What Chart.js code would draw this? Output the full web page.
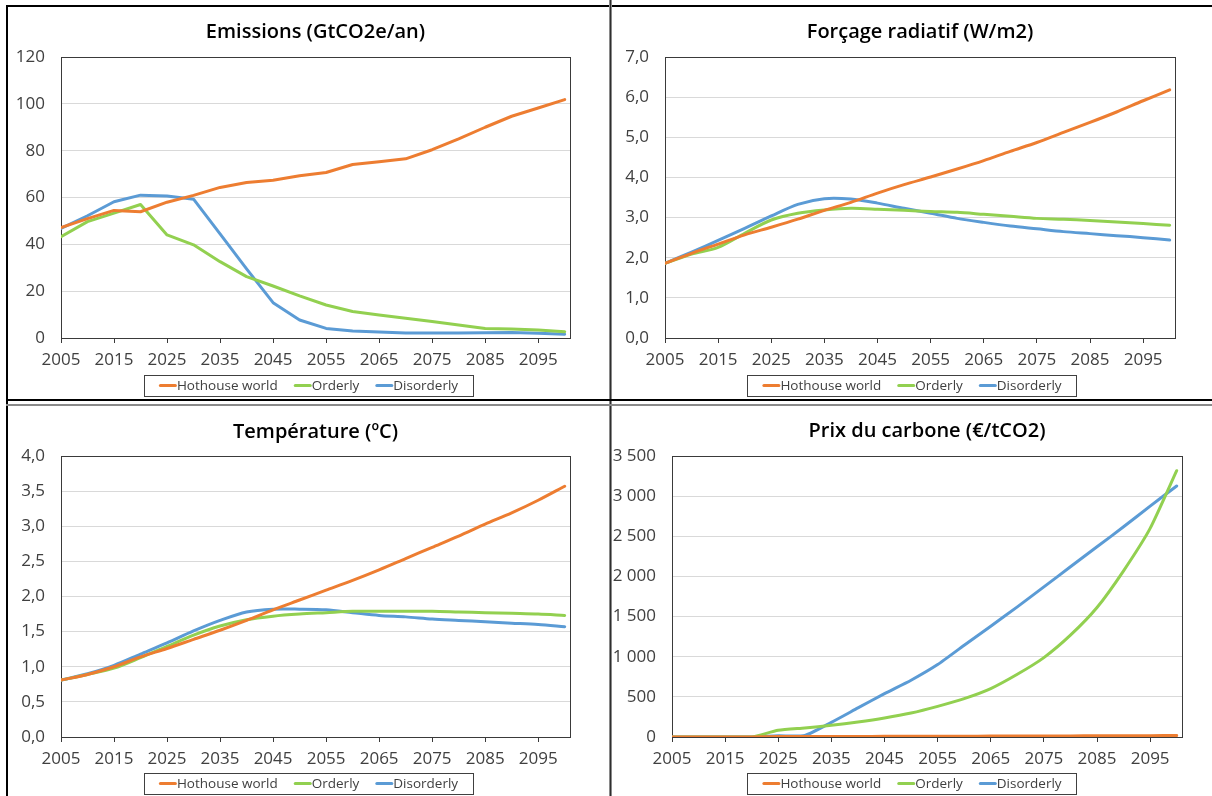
<!DOCTYPE html>
<html>
<head>
<meta charset="utf-8">
<script src="https://cdn.jsdelivr.net/npm/chart.js@4.4.0/dist/chart.umd.min.js"></script>
<style>
  html, body { margin: 0; padding: 0; background: #ffffff; }
  body { width: 1212px; height: 796px; position: relative; overflow: hidden; }
  canvas { position: absolute; }
  .rule { position: absolute; }
</style>
</head>
<body>
<canvas id="cEmissions" width="601" height="393" style="left:8px;top:7px"></canvas>
<canvas id="cForcing" width="600" height="393" style="left:612px;top:7px"></canvas>
<canvas id="cTemperature" width="601" height="390" style="left:8px;top:406px"></canvas>
<canvas id="cCarbonPrice" width="600" height="390" style="left:612px;top:406px"></canvas>

<!-- panel frame lines -->
<div class="rule" style="left:6px;top:5px;width:1206px;height:2px;background:#000"></div>
<div class="rule" style="left:6px;top:5px;width:2px;height:791px;background:#000"></div>
<div class="rule" style="left:609px;top:0px;width:3px;height:796px;background:#8a8a8a"></div>
<div class="rule" style="left:610px;top:0px;width:1px;height:796px;background:#2e2e2e"></div>
<div class="rule" style="left:6px;top:399px;width:1206px;height:2px;background:#000"></div>
<div class="rule" style="left:6px;top:404px;width:1206px;height:2px;background:#8a8a8a"></div>

<script>
// Years of the scenario paths (5-year steps)
const years = [2005, 2010, 2015, 2020, 2025, 2030, 2035, 2040, 2045, 2050,
               2055, 2060, 2065, 2070, 2075, 2080, 2085, 2090, 2095, 2100];
// Labelled years on the horizontal axis
const xTickYears = [2005, 2015, 2025, 2035, 2045, 2055, 2065, 2075, 2085, 2095];

const scenarioNames = ['Hothouse world', 'Orderly', 'Disorderly'];
const scenarioColors = ['#ED7D31', '#92D050', '#5B9BD5'];

// Emissions (GtCO2e/an)
const emissionsHothouse = [47.2, 51.0, 54.5, 53.9, 58.0, 60.9, 64.3, 66.4, 67.4, 69.3,
                           70.7, 74.1, 75.3, 76.5, 80.4, 85.0, 90.0, 94.7, 98.2, 101.8];
const emissionsOrderly = [43.3, 49.7, 53.3, 57.0, 44.0, 39.8, 32.6, 26.2, 22.2, 18.0,
                          14.1, 11.3, 9.8, 8.4, 7.0, 5.6, 4.1, 3.8, 3.4, 2.7];
const emissionsDisorderly = [46.8, 52.2, 58.2, 61.0, 60.6, 59.3, 44.5, 29.5, 15.1, 7.7,
                             4.1, 3.0, 2.6, 2.1, 2.1, 2.1, 2.2, 2.4, 2.0, 1.6];

// Forçage radiatif (W/m2)
const forcingHothouse = [1.86, 2.11, 2.34, 2.57, 2.76, 2.96, 3.18, 3.38, 3.61, 3.82,
                         4.01, 4.21, 4.42, 4.65, 4.87, 5.12, 5.37, 5.63, 5.91, 6.18];
const forcingOrderly = [1.86, 2.09, 2.26, 2.61, 2.94, 3.11, 3.19, 3.23, 3.21, 3.18,
                        3.15, 3.13, 3.08, 3.03, 2.98, 2.96, 2.93, 2.89, 2.85, 2.81];
const forcingDisorderly = [1.86, 2.14, 2.43, 2.73, 3.04, 3.33, 3.47, 3.46, 3.36, 3.23,
                           3.11, 2.98, 2.88, 2.79, 2.72, 2.65, 2.60, 2.55, 2.50, 2.44];

// Température (°C)
const temperatureHothouse = [0.81, 0.89, 1.00, 1.14, 1.26, 1.39, 1.52, 1.66, 1.81, 1.95,
                             2.09, 2.23, 2.38, 2.54, 2.70, 2.86, 3.03, 3.19, 3.37, 3.57];
const temperatureOrderly = [0.81, 0.89, 0.98, 1.13, 1.29, 1.45, 1.58, 1.67, 1.72, 1.75,
                            1.77, 1.79, 1.79, 1.79, 1.79, 1.78, 1.77, 1.76, 1.75, 1.73];
const temperatureDisorderly = [0.81, 0.90, 1.02, 1.18, 1.34, 1.51, 1.66, 1.78, 1.82, 1.82,
                               1.81, 1.77, 1.73, 1.71, 1.68, 1.66, 1.64, 1.62, 1.60, 1.57];

// Prix du carbone (€/tCO2)
const priceHothouse = [0, 0, 0, 0, 5, 6, 6, 7, 8, 9,
                       9, 10, 11, 12, 13, 14, 15, 16, 17, 18];
const priceOrderly = [0, 0, 0, 0, 83, 112, 145, 187, 237, 299,
                      382, 478, 603, 781, 989, 1268, 1613, 2070, 2598, 3317];
const priceDisorderly = [0, 0, 0, 0, 15, 20, 183, 362, 540, 707,
                         902, 1143, 1380, 1621, 1870, 2120, 2369, 2618, 2876, 3126];

const FONT = '"Open Sans", "Liberation Sans", sans-serif';

// French number formats for the value axes
const fmtInt = v => String(Math.round(v));
const fmtDec = v => v.toFixed(1).replace('.', ',');
const fmtThousands = v => String(Math.round(v)).replace(/\B(?=(\d{3})+(?!\d))/g, ' ');

// Plot frame, centred title and boxed legend
const panelDecor = {
  id: 'panelDecor',
  beforeDatasetsDraw(chart) {
    const { ctx, chartArea: a } = chart;
    ctx.save();
    ctx.strokeStyle = '#3a3a3a';
    ctx.lineWidth = 1;
    ctx.strokeRect(Math.round(a.left) + 0.5, Math.round(a.top) + 0.5,
                   Math.round(a.right - a.left), Math.round(a.bottom - a.top));
    ctx.restore();
  },
  afterDraw(chart, args, opts) {
    const { ctx, chartArea: a } = chart;
    ctx.save();
    // title
    ctx.font = '600 20px ' + FONT;
    ctx.fillStyle = '#000000';
    ctx.textAlign = 'center';
    ctx.textBaseline = 'middle';
    ctx.fillText(opts.title, (a.left + a.right) / 2 + (opts.titleDx || 0), opts.titleY);

    // legend
    ctx.font = '13.5px ' + FONT;
    const markW = 18, gap = 16, padX = 15, boxH = 21;
    const items = chart.data.datasets.map(ds => ({
      label: ds.label, color: ds.borderColor, w: ctx.measureText(ds.label).width
    }));
    const total = items.reduce((s, it) => s + markW + it.w, 0) + gap * (items.length - 1);
    const boxW = total + 2 * padX;
    const cx = chart.width / 2;
    const cy = opts.legendY;
    ctx.strokeStyle = '#404040';
    ctx.lineWidth = 1;
    ctx.strokeRect(Math.round(cx - boxW / 2) + 0.5, Math.round(cy - boxH / 2) + 0.5,
                   Math.round(boxW), boxH);
    let x = cx - total / 2;
    ctx.textAlign = 'left';
    ctx.textBaseline = 'middle';
    items.forEach(it => {
      ctx.strokeStyle = it.color;
      ctx.lineWidth = 3;
      ctx.lineCap = 'round';
      ctx.beginPath();
      ctx.moveTo(x + 1.5, cy);
      ctx.lineTo(x + markW - 1.5, cy);
      ctx.stroke();
      ctx.fillStyle = '#404040';
      ctx.fillText(it.label, x + markW, cy + 0.5);
      x += markW + it.w + gap;
    });
    ctx.restore();
  }
};

function makePanel(id, cfg) {
  const seriesList = cfg.series;
  const datasets = seriesList.map((vals, i) => ({
    label: scenarioNames[i],
    data: vals.map((v, k) => ({ x: years[k], y: v })),
    borderColor: scenarioColors[i],
    backgroundColor: scenarioColors[i],
    borderWidth: 3,
    pointRadius: 0,
    pointHoverRadius: 0,
    tension: cfg.tension || 0,
    borderCapStyle: 'round',
    borderJoinStyle: 'round',
    fill: false
  }));

  return new Chart(document.getElementById(id), {
    type: 'line',
    data: { datasets },
    plugins: [panelDecor],
    options: {
      responsive: false,
      animation: false,
      devicePixelRatio: 1,
      layout: { padding: { top: 50, left: 0, right: cfg.padRight, bottom: cfg.padBottom } },
      plugins: {
        legend: { display: false },
        title: { display: false },
        tooltip: { enabled: false },
        panelDecor: { title: cfg.title, titleY: cfg.titleY, legendY: cfg.legendY }
      },
      scales: {
        x: {
          type: 'linear',
          min: 2005,
          max: 2101,
          afterBuildTicks: s => { s.ticks = xTickYears.map(v => ({ value: v })); },
          afterFit: s => { s.height = 30; },
          grid: { drawOnChartArea: false, drawTicks: true, tickLength: 5, tickColor: '#3a3a3a' },
          border: { display: false },
          ticks: {
            autoSkip: false, maxRotation: 0, padding: 7,
            color: '#404040', font: { family: FONT, size: 17 },
            callback: v => String(v)
          }
        },
        y: {
          min: 0,
          max: cfg.yMax,
          afterFit: s => { s.width = cfg.yWidth; },
          grid: { color: '#d9d9d9', lineWidth: 1, drawTicks: false },
          border: { display: false },
          ticks: {
            stepSize: cfg.yStep, padding: 16,
            color: '#404040', font: { family: FONT, size: 17 },
            callback: cfg.yFormat
          }
        }
      }
    }
  });
}

makePanel('cEmissions', {
  title: 'Emissions (GtCO2e/an)',
  series: [emissionsHothouse, emissionsOrderly, emissionsDisorderly],
  yMax: 120, yStep: 20, yFormat: fmtInt, yWidth: 53,
  padRight: 39, padBottom: 32, titleY: 25, legendY: 378.5
});

makePanel('cForcing', {
  title: 'Forçage radiatif (W/m2)',
  series: [forcingHothouse, forcingOrderly, forcingDisorderly],
  yMax: 7, yStep: 1, yFormat: fmtDec, yWidth: 53, tension: 0.3,
  padRight: 37, padBottom: 32, titleY: 25, legendY: 378.5
});

makePanel('cTemperature', {
  title: 'Température (ºC)',
  series: [temperatureHothouse, temperatureOrderly, temperatureDisorderly],
  yMax: 4, yStep: 0.5, yFormat: fmtDec, yWidth: 53, tension: 0.3,
  padRight: 39, padBottom: 29, titleY: 26, legendY: 377.5
});

makePanel('cCarbonPrice', {
  title: 'Prix du carbone (€/tCO2)',
  series: [priceHothouse, priceOrderly, priceDisorderly],
  yMax: 3500, yStep: 500, yFormat: fmtThousands, yWidth: 60, tension: 0.2,
  padRight: 30, padBottom: 29, titleY: 25, legendY: 377.5
});
</script>
</body>
</html>
